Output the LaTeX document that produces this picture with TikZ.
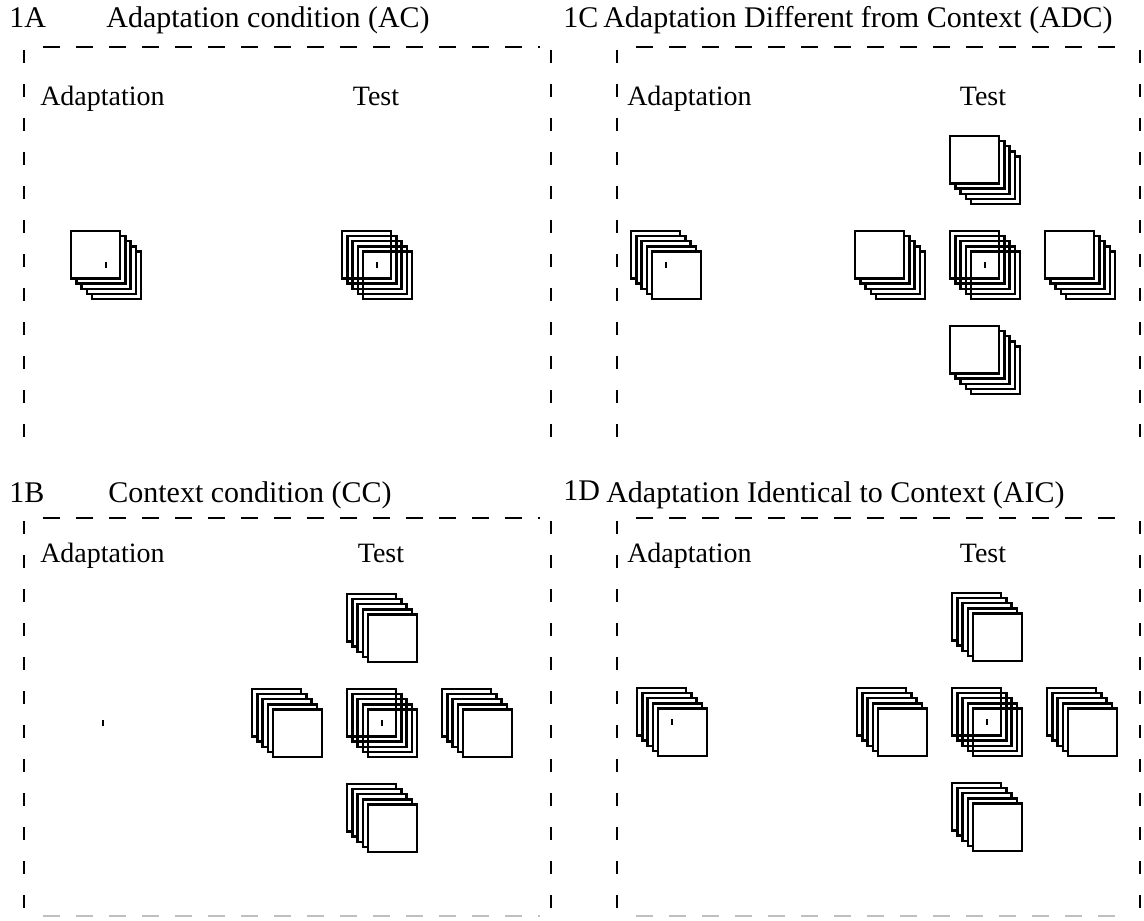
\documentclass[tikz,border=0pt]{standalone}
\usepackage{fontspec}
\setmainfont{Liberation Serif}
\newcommand{\StkF}[2]{\foreach \i in {4,3,2,1,0}{\draw[sq] ({#1-24.5+(\i-2)*5.2},{#2-23.75+(\i-2)*5.2}) rectangle ++(49,47.5);}}
\newcommand{\StkR}[2]{\foreach \i in {0,1,2,3,4}{\draw[sq] ({#1-24.5+(\i-2)*5.2},{#2-23.75+(\i-2)*5.2}) rectangle ++(49,47.5);}}
\newcommand{\StkO}[2]{\foreach \i in {0,1,2,3,4}{\draw[sqo] ({#1-24.5+(\i-2)*5.2},{#2-23.75+(\i-2)*5.2}) rectangle ++(49,47.5);}}
\newcommand{\Dt}[2]{\fill[black] ({#1-1.4},{#2-2.6}) rectangle ++(2.8,5.2);}
\begin{document}
\begin{tikzpicture}[x=0.75pt,y=-0.75pt,
  sq/.style={draw=black, line width=1.8pt, fill=white},
  sqo/.style={draw=black, line width=1.8pt},
  hd/.style={line width=1.5pt, dash pattern=on 12.75pt off 12pt},
  vd/.style={line width=1.5pt, dash pattern=on 10pt off 15.5pt},
  ttl/.style={font=\fontsize{22.5}{26}\selectfont, anchor=base, inner sep=0pt},
  lbl/.style={font=\fontsize{21}{24}\selectfont, anchor=base, inner sep=0pt}]
\useasboundingbox (0,0) rectangle (1144,920);
% titles
\node[ttl, anchor=base west] (tA) at (9,28) {1A};
\node[ttl] (tAC) at (268,28) {Adaptation condition (AC)};
\node[ttl, anchor=base west] (tC) at (563,28) {1C};
\node[ttl, anchor=base west] (tADC) at (603,28) {Adaptation Different from Context (ADC)};
\node[ttl, anchor=base west] (tB) at (9,502) {1B};
\node[ttl] (tCC) at (250,502) {Context condition (CC)};
\node[ttl, anchor=base west] (tD) at (563,500) {1D};
\node[ttl, anchor=base west] (tAIC) at (606,502) {Adaptation Identical to Context (AIC)};
% labels
\node[lbl, anchor=base west] (aA) at (40,106) {Adaptation};
\node[lbl] (eA) at (376,106) {Test};
\node[lbl, anchor=base west] (aC) at (627,106) {Adaptation};
\node[lbl] (eC) at (983,106) {Test};
\node[lbl, anchor=base west] (aB) at (40,562) {Adaptation};
\node[lbl] (eB) at (381,562) {Test};
\node[lbl, anchor=base west] (aD) at (627,562) {Adaptation};
\node[lbl] (eD) at (983,562) {Test};
% boxes
\draw[hd] (43,47) -- (540,47);
\draw[vd] (24,50) -- (24,450);
\draw[vd] (551,50) -- (551,450);
\draw[hd] (636,47) -- (1130,47);
\draw[vd] (617,50) -- (617,450);
\draw[vd] (1140,50) -- (1140,450);
\draw[hd] (43,518) -- (540,518);
\draw[vd] (24,521) -- (24,910);
\draw[vd] (551,521) -- (551,910);
\draw[hd] (636,518) -- (1130,518);
\draw[vd] (617,521) -- (617,910);
\draw[vd] (1140,521) -- (1140,910);
\draw[hd, black!25] (43,916) -- (540,916);
\draw[hd, black!25] (636,916) -- (1130,916);
% 1A
\StkF{106}{265}\Dt{106}{265}
\StkO{377}{265}\Dt{377}{265}
% 1C
\StkR{666}{265}\Dt{666}{265}
\StkF{890}{265}\StkF{1080}{265}\StkF{985}{170}\StkF{985}{360}
\StkO{985}{265}\Dt{985}{265}
% 1B
\Dt{103}{723}
\StkR{287}{723}\StkR{477}{723}\StkR{382}{628}\StkR{382}{818}
\StkO{382}{723}\Dt{382}{723}
% 1D
\StkR{672}{722}\Dt{672}{722}
\StkR{892}{722}\StkR{1082}{722}\StkR{987}{627}\StkR{987}{817}
\StkO{987}{722}\Dt{987}{722}
\end{tikzpicture}
\end{document}
